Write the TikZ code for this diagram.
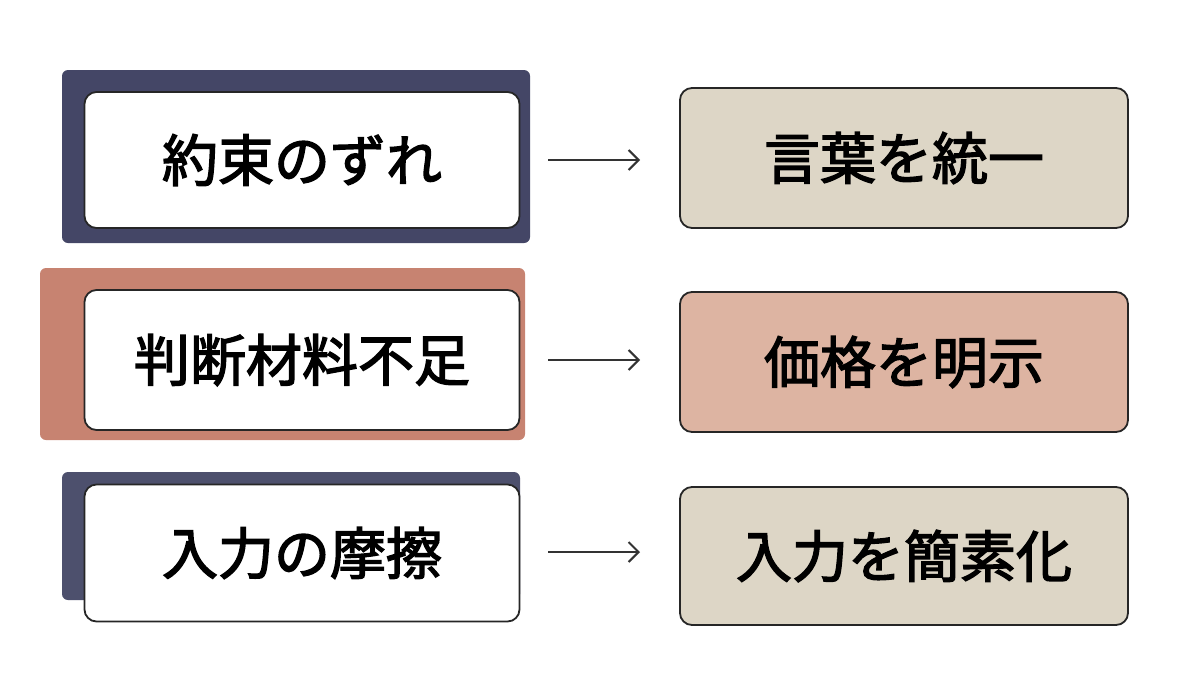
\documentclass[tikz,border=0pt]{standalone}
\usepackage{fontspec}
\usetikzlibrary{arrows.meta}
\setmainfont{Noto Sans CJK JP}
\newfontfamily\medfont[FakeBold=2.5]{Noto Sans CJK JP}
\definecolor{navy}{HTML}{3A3D5E}
\definecolor{terra}{HTML}{C27662}
\definecolor{beige}{HTML}{DDD6C6}
\definecolor{pinkb}{HTML}{DDB4A2}
\begin{document}
\begin{tikzpicture}[x=1pt,y=-1pt,
 box/.style={draw=black!85,line width=1.8pt,rounded corners=12pt,font=\medfont\fontsize{56}{60}\selectfont,inner sep=0pt},
 arr/.style={-{Straight Barb[length=10pt,width=20pt,line width=2pt]},line width=2pt,black!80}]
\useasboundingbox[fill=white] (0,0) rectangle (1200,675);
% shadows
\fill[navy,opacity=.95,rounded corners=6pt] (62,70) rectangle (530,243);
\fill[terra,opacity=.9,rounded corners=6pt] (40,268) rectangle (525,440);
\fill[navy,opacity=.9,rounded corners=6pt] (62,472) rectangle (520,600);
% left boxes
\node[box,fill=white,minimum width=435,minimum height=136] (l1) at (302,160) {約束のずれ};
\node[box,fill=white,minimum width=435,minimum height=140] (l2) at (302,360) {判断材料不足};
\node[box,fill=white,minimum width=435,minimum height=137] (l3) at (302,553) {入力の摩擦};
% right boxes
\node[box,fill=beige,minimum width=448,minimum height=140] (r1) at (904,158) {言葉を統一};
\node[box,fill=pinkb,minimum width=448,minimum height=140] (r2) at (904,362) {価格を明示};
\node[box,fill=beige,minimum width=448,minimum height=138] (r3) at (904,556) {入力を簡素化};
\coordinate (a1) at (548,160); \coordinate (b1) at (640,160);
\coordinate (a2) at (548,360); \coordinate (b2) at (640,360);
\coordinate (a3) at (548,552); \coordinate (b3) at (640,552);
\draw[arr] (a1) -- (b1);
\draw[arr] (a2) -- (b2);
\draw[arr] (a3) -- (b3);
\end{tikzpicture}
\end{document}
